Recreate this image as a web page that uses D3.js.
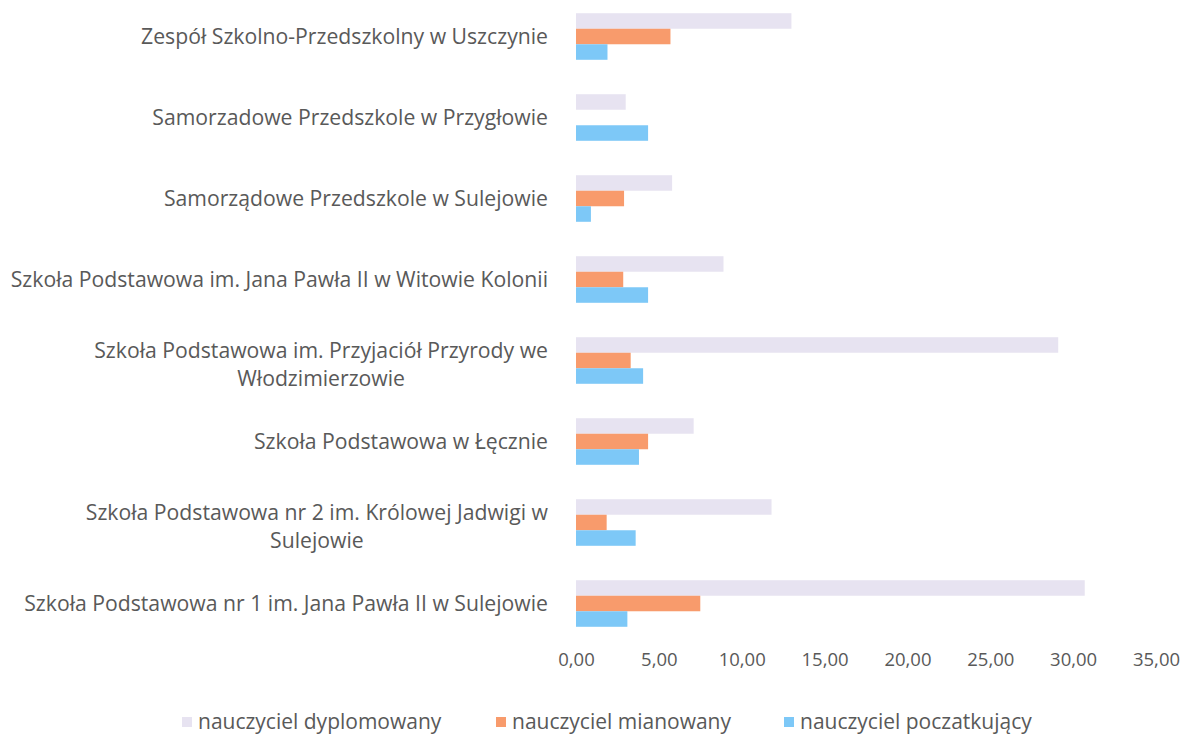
<!DOCTYPE html>
<html>
<head>
<meta charset="utf-8">
<script src="https://cdn.jsdelivr.net/npm/d3@7"></script>
<style>
  body { margin: 0; background: #fff; }
  svg text { font-family: "Open Sans", "Noto Sans", sans-serif; fill: #595959; }
</style>
</head>
<body>
<main></main>
<script>
// schools, top to bottom as drawn
const schools = [
    ['Zespół Szkolno-Przedszkolny w Uszczynie'],
    ['Samorzadowe Przedszkole w Przygłowie'],
    ['Samorządowe Przedszkole w Sulejowie'],
    ['Szkoła Podstawowa im. Jana Pawła II w Witowie Kolonii'],
    ['Szkoła Podstawowa im. Przyjaciół Przyrody we', 'Włodzimierzowie'],
    ['Szkoła Podstawowa w Łęcznie'],
    ['Szkoła Podstawowa nr 2 im. Królowej Jadwigi w', 'Sulejowie'],
    ['Szkoła Podstawowa nr 1 im. Jana Pawła II w Sulejowie']
];
const seriesNames = ['nauczyciel dyplomowany', 'nauczyciel mianowany', 'nauczyciel poczatkujący'];
const dyplomowany = [13.0, 3.0, 5.8, 8.9, 29.1, 7.1, 11.8, 30.7];
const mianowany = [5.7, 0, 2.9, 2.85, 3.3, 4.35, 1.85, 7.5];
const poczatkujacy = [1.9, 4.35, 0.9, 4.35, 4.05, 3.8, 3.6, 3.1];
const xTicks = [0, 5, 10, 15, 20, 25, 30, 35];
const colors = ['#e7e3f1', '#f89b6c', '#7dc8f7'];

const values = [dyplomowany, mianowany, poczatkujacy];
const keys = schools.map((d, i) => 'k' + i);

const svg = d3.select('main')
    .append('svg')
    .attr('width', 1187)
    .attr('height', 739);

const xScale = d3.scaleLinear()
    .domain([0, 35])
    .range([576, 1156]);

const yScale = d3.scaleBand()
    .domain(keys)
    .range([-4, 644])
    .paddingInner(0.425)
    .paddingOuter(0.2125);

const ySub = d3.scaleBand()
    .domain([0, 1, 2])
    .range([0, yScale.bandwidth()]);

const pl = d3.formatLocale({ decimal: ',', thousands: ' ', grouping: [3], currency: ['', ' zł'] });

// bars
values.forEach((vals, s) => {
    svg.append('g')
        .selectAll('rect')
        .data(vals)
        .enter()
        .append('rect')
        .attr('x', xScale(0))
        .attr('y', (d, i) => yScale(keys[i]) + ySub(s))
        .attr('width', (d) => xScale(d) - xScale(0))
        .attr('height', ySub.bandwidth())
        .attr('fill', colors[s]);
});

// category labels
const labelRight = 548;
const lab = svg.append('g')
    .style('font-size', '21.2px');
schools.forEach((lines, i) => {
    const cy = yScale(keys[i]) + yScale.bandwidth() / 2;
    if (lines.length === 1) {
        lab.append('text')
            .attr('x', labelRight)
            .attr('y', cy)
            .attr('dy', '0.35em')
            .attr('text-anchor', 'end')
            .text(lines[0]);
    } else {
        const t = lab.append('text')
            .attr('text-anchor', 'middle')
            .text(lines[0]);
        const w = t.node().getComputedTextLength();
        const mid = labelRight - w / 2;
        t.attr('x', mid).attr('y', cy - 10).attr('dy', '0.35em');
        lab.append('text')
            .attr('x', mid)
            .attr('y', cy + 18)
            .attr('dy', '0.35em')
            .attr('text-anchor', 'middle')
            .text(lines[1]);
    }
});

// x axis
const ax = svg.append('g')
    .attr('transform', 'translate(0, 650)')
    .call(
        d3.axisBottom(xScale)
            .tickValues(xTicks)
            .tickSize(0)
            .tickPadding(3)
            .tickFormat(pl.format('.2f'))
    );
ax.select('.domain').remove();
ax.selectAll('text')
    .style('font-size', '18.5px')
    .attr('fill', '#595959');

// legend
const legendX = [182, 496, 784];
const leg = svg.append('g')
    .attr('transform', 'translate(0, 722)');
seriesNames.forEach((name, s) => {
    leg.append('rect')
        .attr('x', legendX[s])
        .attr('y', -5)
        .attr('width', 10)
        .attr('height', 10)
        .attr('fill', colors[s]);
    leg.append('text')
        .attr('x', legendX[s] + 16)
        .attr('y', 0)
        .attr('dy', '0.35em')
        .style('font-size', '21px')
        .text(name);
});
</script>
</body>
</html>
